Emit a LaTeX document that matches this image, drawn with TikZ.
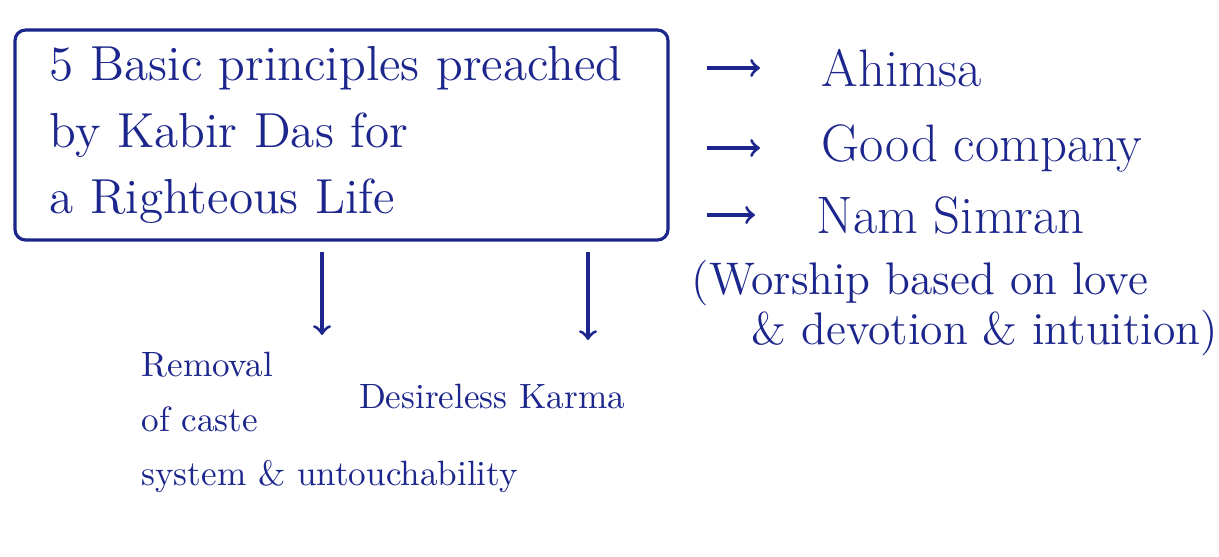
\documentclass[tikz,border=0pt]{standalone}
\usetikzlibrary{positioning}
\definecolor{ink}{RGB}{28,38,140}

\begin{document}
\begin{tikzpicture}[ink,line width=0.9pt,
	principle/.style={draw,rounded corners=3pt,minimum width=6.53cm,minimum height=2.1cm,
		inner xsep=0.35cm,text width=5.83cm,align=left,font=\fontsize{14}{19}\selectfont},
	item/.style={anchor=west,inner sep=0pt,font=\fontsize{15}{18}\selectfont},
	note/.style={inner sep=0pt,font=\fontsize{13}{13}\selectfont},
	down/.style={align=left,inner sep=0pt,font=\fontsize{10}{15.5}\selectfont},
	side/.style={->,shorten <=0.37cm,shorten >=0.6cm}]
	\useasboundingbox (0,0) rectangle (12.19,5.56);
	\node[principle] (main) at (3.415,4.21) {5 Basic principles preached\\ by Kabir Das for\\ a Righteous Life};
	\node[item] (ahimsa) at (8.2,4.88) {Ahimsa};
	\node[item] (good) at (8.2,4.08) {Good company};
	\node[item] (nam) at (8.15,3.41) {Nam Simran};
	\node[note,align=left,anchor=west] (worship) at (6.9,2.48) {(Worship based on love\\ \hspace*{0.6cm}\& devotion \& intuition)};
	\node[down,anchor=north west] (removal) at (1.4,2.05) {Removal\\ of caste\\ system \& untouchability};
	\node[down] (karma) at (4.92,1.6) {Desireless Karma};
	\coordinate (c1) at (3.22,2.21);
	\coordinate (c2) at (5.88,2.16);
	\path[side]
	(main.east |- ahimsa.west) edge (ahimsa.west)
	(main.east |- good.west) edge (good.west)
	(main.east |- nam.west) edge (nam.west);
	\draw[->,shorten <=1mm] (main.south -| c1) -- (c1);
	\draw[->,shorten <=1mm] (main.south -| c2) -- (c2);
\end{tikzpicture}
\end{document}
